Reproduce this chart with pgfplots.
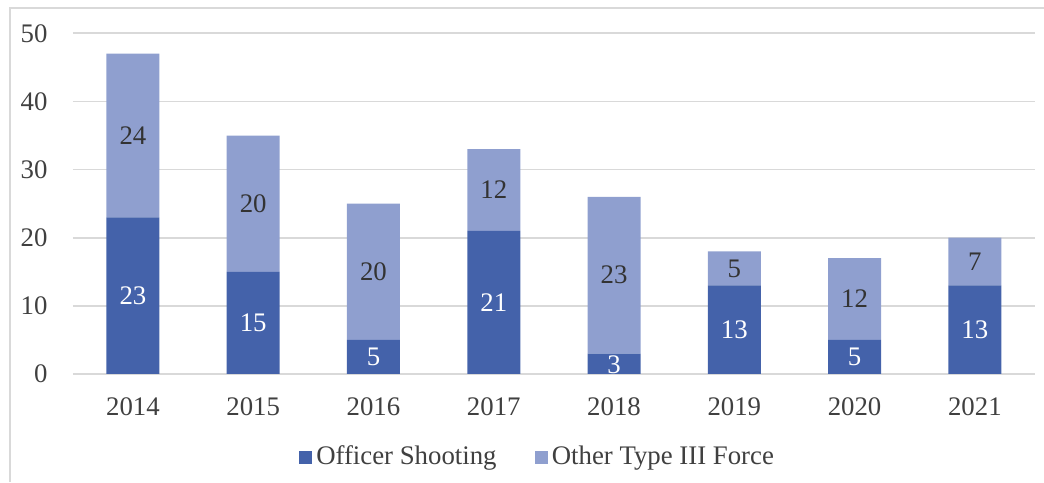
\documentclass[border=0pt]{standalone}
\usepackage{pgfplots}
\pgfplotsset{compat=1.18}
\usepackage{fontspec}
\setmainfont{Liberation Serif}
\definecolor{darkbar}{HTML}{4462AA}
\definecolor{lightbar}{HTML}{8F9FCF}
\definecolor{gridgray}{HTML}{D9D9D9}
\definecolor{labgray}{HTML}{404040}
\newcommand{\chartfont}{\fontsize{13.4}{16}\selectfont}

\begin{document}
\chartfont
\begin{tikzpicture}[x=1pt,y=1pt]
\useasboundingbox (0,0) rectangle (522,241);
% chart frame (cropped at right and bottom)
\draw[gridgray, line width=0.8pt] (5,0) -- (5,237) -- (522,237);

\begin{axis}[
	at={(36.4pt,54pt)}, anchor=south west,
	scale only axis,
	width=481.1pt, height=170.35pt,
	ybar stacked,
	bar width=26.5pt,
	xmin=-0.5, xmax=7.5,
	ymin=0, ymax=50,
	enlargelimits=false,
	xtick={0,...,7},
	xticklabels={2014,2015,2016,2017,2018,2019,2020,2021},
	ytick={0,10,...,50},
	ymajorgrids,
	grid style={gridgray, line width=0.8pt},
	axis line style={draw=none},
	tick style={draw=none},
	/pgf/number format/assume math mode=true,
	ticklabel style={font=\chartfont, text=labgray},
	yticklabel style={xshift=-8pt},
	xticklabel style={yshift=-7pt},
	legend style={at={(0.484,-0.244)}, anchor=center, draw=none,
		legend columns=2, font=\chartfont, text=labgray,
		/tikz/every even column/.append style={column sep=17pt}},
	legend image code/.code={\fill (0pt,-3.3pt) rectangle (6.6pt,3.3pt);},
]
\addplot[fill=darkbar, draw=none] coordinates {
	(0,23) (1,15) (2,5) (3,21) (4,3) (5,13) (6,5) (7,13)};
\addlegendentry{Officer Shooting}
\addplot[fill=lightbar, draw=none] coordinates {
	(0,24) (1,20) (2,20) (3,12) (4,23) (5,5) (6,12) (7,7)};
\addlegendentry{Other Type III Force}
\end{axis}

% value labels, centred in each segment
\begin{axis}[
	at={(36.4pt,54pt)}, anchor=south west,
	scale only axis,
	width=481.1pt, height=170.35pt,
	xmin=-0.5, xmax=7.5,
	ymin=0, ymax=50,
	hide axis,
	clip=false,
]
\addplot[only marks, mark=none, point meta=explicit symbolic,
	nodes near coords, nodes near coords align={center},
	every node near coord/.append style={anchor=center, text=white,
		font=\chartfont}]
	table[meta=label] {
	x y label
	0 11.5 23
	1 7.5 15
	2 2.5 5
	3 10.5 21
	4 1.3 3
	5 6.5 13
	6 2.5 5
	7 6.5 13
};
\addplot[only marks, mark=none, point meta=explicit symbolic,
	nodes near coords, nodes near coords align={center},
	every node near coord/.append style={anchor=center, text=labgray!80!black,
		font=\chartfont}]
	table[meta=label] {
	x y label
	0 35 24
	1 25 20
	2 15 20
	3 27 12
	4 14.5 23
	5 15.5 5
	6 11 12
	7 16.5 7
};
\end{axis}
\end{tikzpicture}
\end{document}
